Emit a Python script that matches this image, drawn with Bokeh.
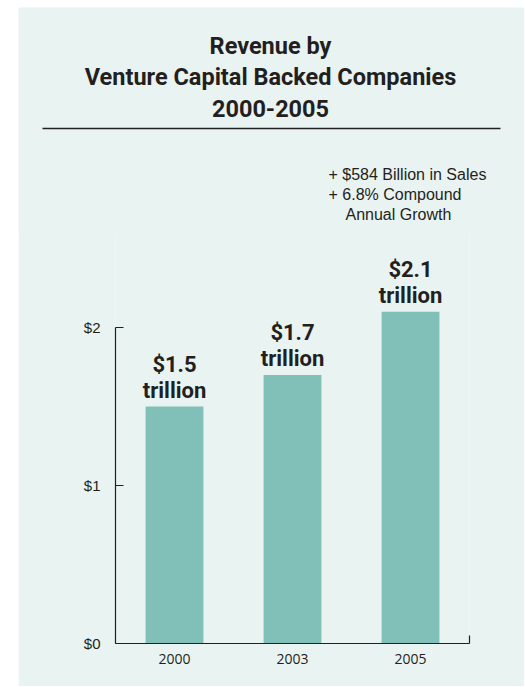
from bokeh.plotting import figure
from bokeh.models import ColumnDataSource, Range1d, FixedTicker, Spacer
from bokeh.layouts import row, column
from bokeh.core.properties import value
from bokeh.embed import file_html
from bokeh.resources import INLINE

# ---- data ----
years = ["2000", "2003", "2005"]
revenue = [1.5, 1.7, 2.1]            # trillions of dollars
value_labels = ["$1.5", "$1.7", "$2.1"]
unit_labels = ["trillion", "trillion", "trillion"]
y_ticks = [0, 1, 2]
y_tick_labels = ["$0", "$1", "$2"]
title_lines = ["Revenue by", "Venture Capital Backed Companies", "2000-2005"]
note_lines = ["+ $584 Billion in Sales", "+ 6.8% Compound", "Annual Growth"]

# ---- style ----
BG = "#e9f3f1"
BAR = "#81bfb9"
INK = "#231f20"
BOLD_FONT = "Roboto"
REG = "Liberation Sans"

LEFT_PAD, TOP_PAD = 18, 7
OVERLAP = 2
W = 506
HH = 225 + OVERLAP  # header height (bottom rows covered by the chart)
MH = 454            # main chart height
FL, FR, FB = 97, 55, 43
PX_PER_Y = 158.0

# ---- header: title, rule, notes (pixel-like layout coordinates) ----
header = figure(width=W, height=HH, x_range=Range1d(0, W), y_range=Range1d(HH, 0),
                output_backend="svg", toolbar_location=None, min_border=0,
                x_axis_type=None, y_axis_type=None, title=None,
                outline_line_color=None, background_fill_color=BG, border_fill_color=BG)
header.grid.visible = False

header.text(x=[252, 252, 252], y=[38, 69.5, 100.5], text=title_lines,
            text_align="center", text_baseline="alphabetic",
            text_font=value(BOLD_FONT), text_font_style="bold", text_font_size="23.5px",
            text_color=INK)
header.segment(x0=[24], y0=[121], x1=[482], y1=[121], line_color=INK, line_width=1.3)
header.text(x=[310, 310, 327], y=[166.5, 187, 207], text=note_lines,
            text_align="left", text_baseline="alphabetic",
            text_font=value(REG), text_font_size="16px", text_color=INK)

# ---- main chart ----
n = len(years)
src = ColumnDataSource(dict(x=list(range(n)), top=revenue,
                            val=value_labels, unit=unit_labels))

frame_h = MH - FB
p = figure(width=W, height=MH, x_range=Range1d(-0.5, n - 0.5),
           y_range=Range1d(0, frame_h / PX_PER_Y),
           output_backend="svg", toolbar_location=None, title=None,
           min_border_left=FL, min_border_right=FR, min_border_top=0, min_border_bottom=FB,
           outline_line_color=None, background_fill_color=BG, border_fill_color=BG)
p.grid.visible = False

p.vbar(x="x", top="top", width=0.49, source=src, fill_color=BAR, line_color=None)
p.text(x="x", y="top", text="val", source=src, y_offset=-42,
       text_align="center", text_baseline="alphabetic",
       text_font=value(BOLD_FONT), text_font_style="bold", text_font_size="22px", text_color=INK)
p.text(x="x", y="top", text="unit", source=src, y_offset=-16,
       text_align="center", text_baseline="alphabetic",
       text_font=value(BOLD_FONT), text_font_style="bold", text_font_size="22px", text_color=INK)

xa = p.xaxis[0]
xa.ticker = FixedTicker(ticks=list(range(n)), minor_ticks=[n - 0.5])
xa.major_label_overrides = {i: y for i, y in enumerate(years)}
xa.major_tick_in = 0
xa.major_tick_out = 0
xa.minor_tick_in = 8
xa.minor_tick_out = 0
xa.minor_tick_line_color = INK
xa.minor_tick_line_width = 1.2
xa.axis_line_color = INK
xa.axis_line_width = 1.2
xa.major_label_standoff = 10
xa.major_label_text_font = "Open Sans"
xa.major_label_text_font_size = "14px"
xa.major_label_text_color = INK

ya = p.yaxis[0]
ya.ticker = FixedTicker(ticks=y_ticks)
ya.bounds = (y_ticks[0], y_ticks[-1])
ya.major_label_overrides = {t: l for t, l in zip(y_ticks, y_tick_labels)}
ya.major_tick_in = 8
ya.major_tick_out = 0
ya.minor_tick_line_color = None
ya.major_tick_line_color = INK
ya.major_tick_line_width = 1.2
ya.axis_line_color = INK
ya.axis_line_width = 1.2
ya.major_label_standoff = 15
ya.major_label_text_font = "Liberation Sans"
ya.major_label_text_font_size = "15px"
ya.major_label_text_color = INK

top_block = column(Spacer(width=W + LEFT_PAD, height=TOP_PAD),
                   row(Spacer(width=LEFT_PAD, height=HH), header))
bottom_block = row(Spacer(width=LEFT_PAD, height=MH), p, margin=(-OVERLAP, 0, 0, 0))

open("out.html", "w").write(file_html([top_block, bottom_block], INLINE))
